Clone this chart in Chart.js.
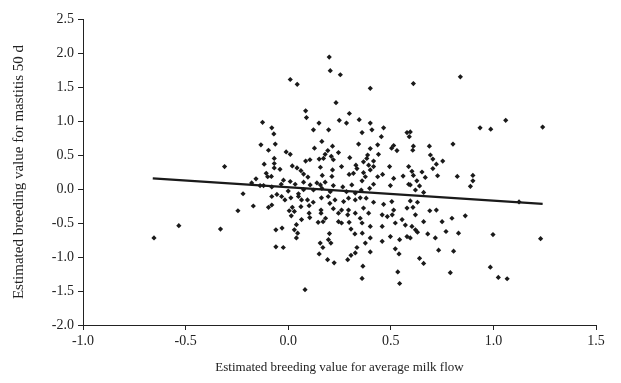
<!DOCTYPE html>
<html>
<head>
<meta charset="utf-8">
<script src="https://cdn.jsdelivr.net/npm/chart.js@4/dist/chart.umd.min.js"></script>
<style>
  html, body { margin: 0; padding: 0; background: #fff; }
  #wrap { width: 621px; height: 383px; position: relative; }
</style>
</head>
<body>
<div id="wrap"><canvas id="c"></canvas></div>
<script>
// Valores (x = valor genético p/ fluxo médio de leite,
// y = valor genético p/ mastite 50 d). Pares na mesma posição.
var milkFlow = [
  -0.654, -0.533,
  0.935, 0.987, 1.06, 1.24, 1.125, 0.998, 1.23, 0.985, 1.024, 1.067,
  0.01, 0.044, 0.20, 0.205, 0.254, 0.40, 0.61, 0.839,
  -0.125, -0.133, -0.096, -0.31, -0.117, -0.107, -0.10, -0.157, -0.178, -0.137, -0.12, -0.22,
  -0.245, -0.17, -0.096, -0.33,
  0.233, 0.085, 0.089, 0.249, -0.08, -0.07, 0.123, 0.15, 0.197, 0.164,
  -0.063, 0.216, 0.128, 0.193, -0.01, 0.01, 0.245, 0.18, 0.21, -0.068,
  0.172, 0.151, 0.22, 0.085, 0.106, -0.068, -0.068, -0.04, 0.02, 0.043,
  0.062, 0.157, 0.216, 0.075, 0.096, 0.166, 0.213, -0.082, -0.023, -0.034,
  0.01, 0.034, 0.075, 0.107, 0.14, 0.157, 0.18, 0.22, -0.08, 0.0,
  0.075, 0.123, 0.164, 0.205, -0.055, 0.05,
  0.298, 0.346, 0.40, 0.284, 0.465, 0.408, 0.36, 0.454, 0.579, 0.59,
  0.343, 0.436, 0.40, 0.514, 0.504, 0.53, 0.44, 0.387, 0.30, 0.383,
  0.367, 0.416, 0.33, 0.392, 0.416, 0.494, 0.587, 0.335, 0.26, 0.318,
  0.367, 0.40, 0.297, 0.46, 0.436, 0.376, 0.514, 0.56, 0.36, 0.416,
  0.498, 0.587, 0.31, 0.266, 0.356, 0.397, 0.284, 0.327,
  0.595, 0.803, 0.688, 0.61, 0.607, 0.693, 0.705, 0.753, 0.722, 0.705,
  0.603, 0.61, 0.652, 0.668, 0.728, 0.824, 0.90, 0.90, 0.888, 0.627,
  0.64, 0.62, 0.66, 0.595,
  -0.08, -0.032, -0.016, 0.013, 0.05, 0.065, 0.094, 0.122, 0.162, 0.195,
  0.203, 0.228, -0.08, 0.02, 0.005, 0.03, 0.062, 0.102, 0.16, 0.16,
  0.22, 0.245, 0.015, 0.102, 0.105, 0.065, 0.182, 0.146, 0.17, 0.245,
  0.04, -0.06, -0.03, 0.03, 0.046, 0.04, 0.201, 0.196, 0.208, 0.156,
  0.169, -0.06, -0.024, 0.151, 0.192, 0.224, 0.082,
  0.27, 0.294, 0.327, 0.351, 0.38, 0.416, 0.465, 0.505, 0.514, 0.579,
  0.26, 0.294, 0.29, 0.327, 0.367, 0.392, 0.458, 0.483, 0.507, 0.555,
  0.26, 0.297, 0.351, 0.36, 0.40, 0.458, 0.522, 0.571, 0.306, 0.325,
  0.361, 0.40, 0.376, 0.458, 0.498, 0.543, 0.579, 0.335, 0.522, 0.327,
  0.40, 0.54, 0.306, 0.29, 0.364, 0.534, 0.36, 0.543,
  0.595, 0.63, 0.608, 0.69, 0.722, 0.62, 0.66, 0.75, 0.798, 0.863,
  0.603, 0.62, 0.63, 0.68, 0.595, 0.717, 0.769, 0.83, 0.733, 0.806,
  0.64, 0.66, 0.79
];
var mastitis = [
  -0.72, -0.54,
  0.90, 0.88, 1.01, 0.91, -0.19, -0.67, -0.73, -1.15, -1.30, -1.32,
  1.61, 1.54, 1.94, 1.74, 1.68, 1.48, 1.55, 1.65,
  0.98, 0.65, 0.57, 0.33, 0.365, 0.23, 0.18, 0.15, 0.09, 0.05, 0.05, -0.07,
  -0.32, -0.25, -0.27, -0.59,
  1.27, 1.15, 1.05, 1.01, 0.90, 0.81, 0.87, 0.97, 0.87, 0.70,
  0.66, 0.63, 0.60, 0.565, 0.545, 0.51, 0.535, 0.51, 0.48, 0.45,
  0.45, 0.44, 0.43, 0.41, 0.43, 0.375, 0.31, 0.29, 0.34, 0.31,
  0.27, 0.32, 0.28, 0.22, 0.175, 0.20, 0.185, 0.185, 0.13, 0.07,
  0.11, 0.07, 0.10, 0.06, 0.09, 0.06, 0.10, 0.05, 0.03, -0.03,
  -0.01, -0.015, 0.01, -0.04, -0.08, -0.07,
  1.11, 1.02, 0.97, 0.97, 0.90, 0.87, 0.83, 0.77, 0.83, 0.77,
  0.66, 0.65, 0.595, 0.64, 0.60, 0.565, 0.51, 0.50, 0.46, 0.45,
  0.40, 0.41, 0.35, 0.35, 0.33, 0.33, 0.33, 0.30, 0.33, 0.23,
  0.24, 0.28, 0.215, 0.215, 0.18, 0.18, 0.155, 0.19, 0.12, 0.07,
  0.05, 0.07, 0.06, 0.03, -0.015, 0.01, -0.04, -0.06,
  0.84, 0.66, 0.63, 0.63, 0.57, 0.50, 0.44, 0.41, 0.365, 0.30,
  0.26, 0.20, 0.25, 0.17, 0.195, 0.185, 0.20, 0.12, 0.04, 0.12,
  0.045, -0.015, -0.05, 0.06,
  -0.11, -0.11, -0.16, -0.13, -0.11, -0.16, -0.16, -0.195, -0.13, -0.11,
  -0.21, -0.16, -0.235, -0.27, -0.32, -0.33, -0.26, -0.245, -0.31, -0.355,
  -0.29, -0.355, -0.395, -0.355, -0.42, -0.45, -0.43, -0.49, -0.48, -0.48,
  -0.525, -0.60, -0.575, -0.60, -0.65, -0.72, -0.655, -0.745, -0.795, -0.795,
  -0.86, -0.85, -0.86, -0.955, -1.04, -1.085, -1.48,
  -0.185, -0.135, -0.16, -0.13, -0.135, -0.195, -0.225, -0.185, -0.31, -0.28,
  -0.31, -0.31, -0.38, -0.355, -0.28, -0.355, -0.38, -0.405, -0.38, -0.45,
  -0.50, -0.49, -0.43, -0.50, -0.55, -0.55, -0.50, -0.53, -0.59, -0.66,
  -0.65, -0.72, -0.795, -0.77, -0.70, -0.745, -0.70, -0.86, -0.88, -0.94,
  -0.925, -0.955, -0.975, -1.04, -1.135, -1.22, -1.315, -1.39,
  -0.175, -0.195, -0.27, -0.32, -0.31, -0.38, -0.48, -0.48, -0.43, -0.395,
  -0.55, -0.60, -0.635, -0.66, -0.72, -0.72, -0.625, -0.65, -0.90, -0.915,
  -1.02, -1.095, -1.23
];

// Reta de regressão (extremos)
var trendX = [-0.66, 1.24];
var trendY = [0.156, -0.22];

var X_MIN = -1.0, X_MAX = 1.5, Y_MIN = -2.0, Y_MAX = 2.5, STEP = 0.5;

var INK = "#1a1a1a";
var FONT = "'Liberation Serif', 'Times New Roman', serif";

function pairs(xs, ys) {
  return xs.map(function (x, i) { return { x: x, y: ys[i] }; });
}

new Chart(document.getElementById("c"), {
  type: "scatter",
  data: {
    datasets: [
      {
        label: "Touros",
        data: pairs(milkFlow, mastitis),
        pointStyle: "rectRot",
        pointRadius: 2.6,
        pointHoverRadius: 2.6,
        backgroundColor: INK,
        borderColor: INK,
        borderWidth: 0,
      },
      {
        label: "Regressão",
        data: pairs(trendX, trendY),
        showLine: true,
        pointRadius: 0,
        borderColor: INK,
        borderWidth: 2.2,
      },
    ],
  },
  options: {
    responsive: true,
    maintainAspectRatio: false,
    animation: false,
    layout: { padding: { left: 6, right: 25, top: 19, bottom: 4 } },
    scales: {
      x: {
        type: "linear",
        min: X_MIN,
        max: X_MAX,
        afterFit: function (s) { s.height = 54; },
        border: { color: "#222", width: 1 },
        grid: { drawOnChartArea: false, drawTicks: true, tickLength: 5, color: "#222" },
        ticks: {
          stepSize: STEP,
          color: "#222",
          padding: 3,
          font: { family: FONT, size: 14 },
          callback: function (v) { return v.toFixed(1); },
        },
        title: {
          display: true,
          text: "Estimated breeding value for average milk flow",
          color: "#222",
          padding: { top: 4 },
          font: { family: FONT, size: 13 },
        },
      },
      y: {
        type: "linear",
        min: Y_MIN,
        max: Y_MAX,
        afterFit: function (s) { s.width = 77; },
        border: { color: "#222", width: 1 },
        grid: { drawOnChartArea: false, drawTicks: true, tickLength: 5, color: "#222" },
        ticks: {
          stepSize: STEP,
          color: "#222",
          padding: 4,
          font: { family: FONT, size: 14 },
          callback: function (v) { return v.toFixed(1); },
        },
        title: {
          display: true,
          text: "Estimated breeding value for mastitis 50 d",
          color: "#222",
          padding: { bottom: 4 },
          font: { family: FONT, size: 15 },
        },
      },
    },
    plugins: {
      legend: { display: false },
      tooltip: { enabled: false },
    },
  },
});
</script>
</body>
</html>
